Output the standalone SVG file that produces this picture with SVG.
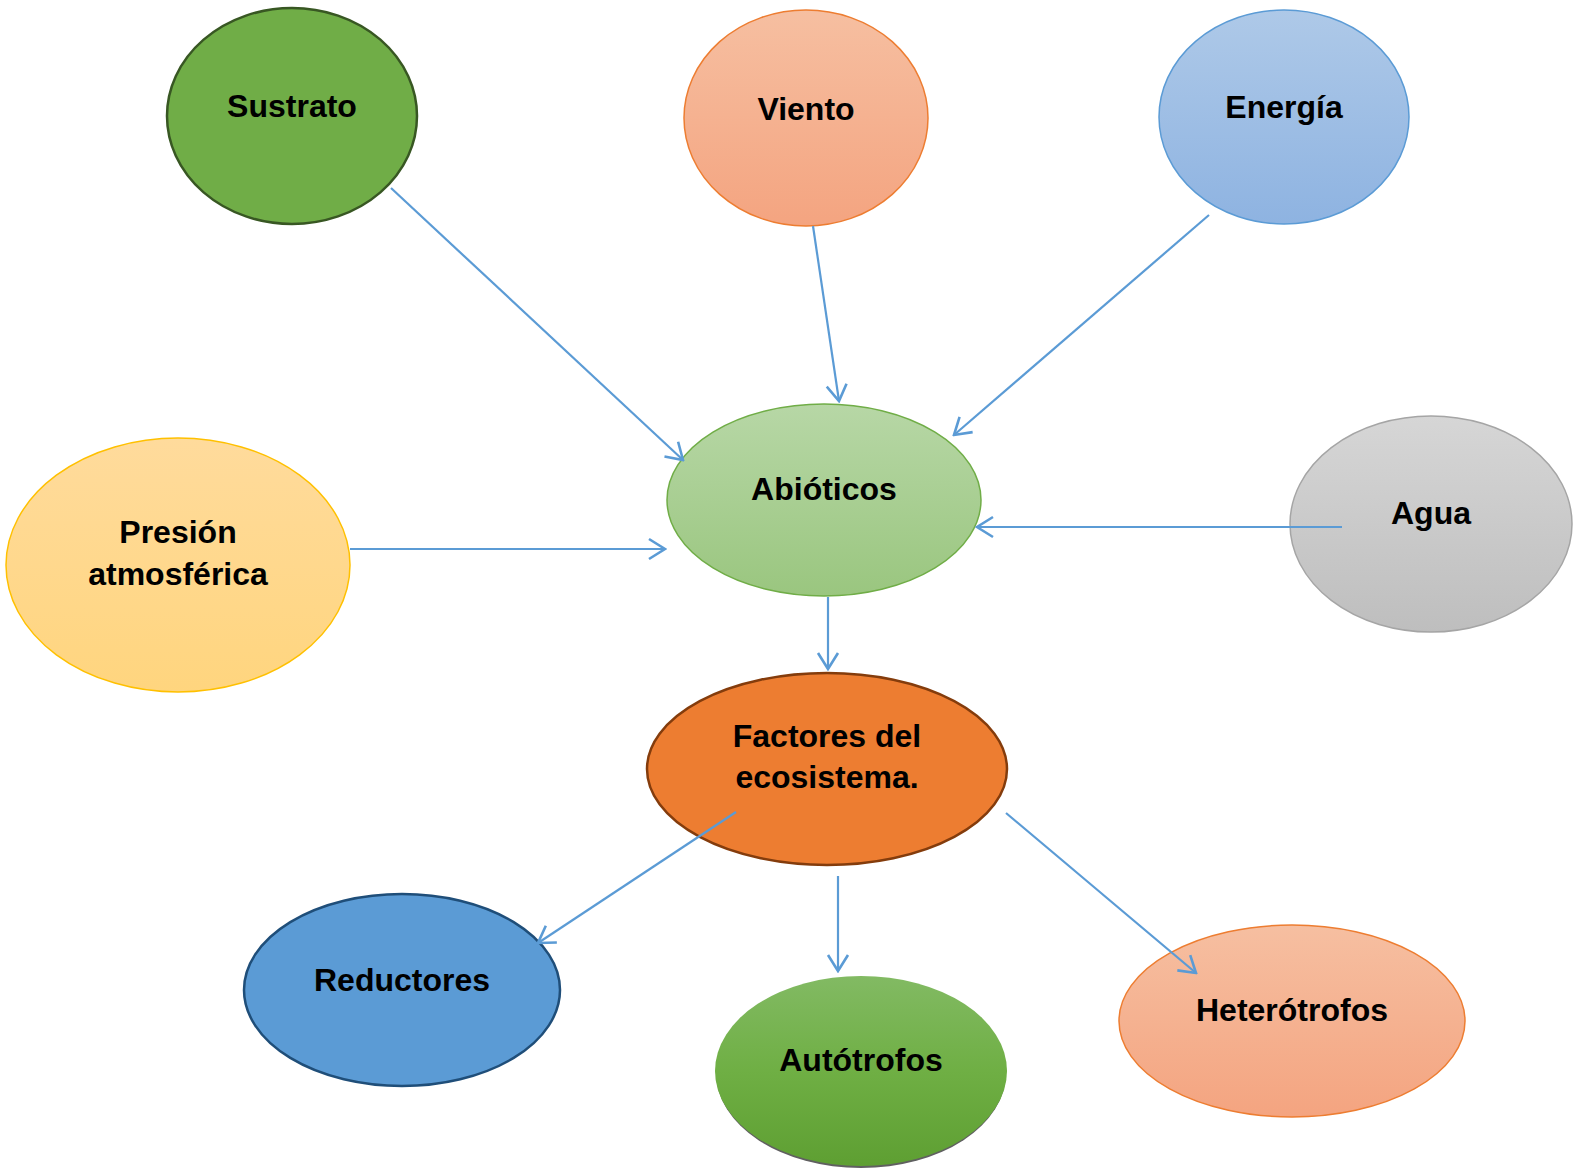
<svg xmlns="http://www.w3.org/2000/svg" width="1574" height="1171" viewBox="0 0 1574 1171">
<style>
text{font-family:"Liberation Sans",Arial,sans-serif;font-weight:bold;font-size:32px;fill:#000;text-anchor:middle}
.c line{stroke:#5B9BD5;stroke-width:2.2;fill:none;marker-end:url(#ar)}
</style>
<defs>
<marker id="ar" markerUnits="userSpaceOnUse" viewBox="0 0 20 24" refX="18" refY="12" markerWidth="20" markerHeight="24" orient="auto">
<path d="M2,2 L18,12 L2,22" fill="none" stroke="#5B9BD5" stroke-width="2.6" stroke-linejoin="miter"/>
</marker>
<linearGradient id="gSal" x1="0" y1="0" x2="0" y2="1"><stop offset="0" stop-color="#F6BFA1"/><stop offset="1" stop-color="#F4A480"/></linearGradient>
<linearGradient id="gBlue" x1="0" y1="0" x2="0" y2="1"><stop offset="0" stop-color="#AEC9E8"/><stop offset="1" stop-color="#8EB3E1"/></linearGradient>
<linearGradient id="gLG" x1="0" y1="0" x2="0" y2="1"><stop offset="0" stop-color="#B7D7A6"/><stop offset="1" stop-color="#9AC67F"/></linearGradient>
<linearGradient id="gY" x1="0" y1="0" x2="0" y2="1"><stop offset="0" stop-color="#FFDB9C"/><stop offset="1" stop-color="#FFD57E"/></linearGradient>
<linearGradient id="gGr" x1="0" y1="0" x2="0" y2="1"><stop offset="0" stop-color="#D6D6D6"/><stop offset="1" stop-color="#BEBEBE"/></linearGradient>
<linearGradient id="gAut" x1="0" y1="0" x2="0" y2="1"><stop offset="0" stop-color="#82BA63"/><stop offset="0.5" stop-color="#6FAF44"/><stop offset="1" stop-color="#5E9F32"/></linearGradient>
</defs>

<g id="sustrato"><ellipse cx="292" cy="116" rx="125" ry="108" fill="#70AD47" stroke="#385723" stroke-width="2.5"/><text x="292" y="117">Sustrato</text></g>
<g id="viento"><ellipse cx="806" cy="118" rx="122" ry="108" fill="url(#gSal)" stroke="#ED7D31" stroke-width="1.5"/><text x="806" y="120">Viento</text></g>
<g id="energia"><ellipse cx="1284" cy="117" rx="125" ry="107" fill="url(#gBlue)" stroke="#5B9BD5" stroke-width="1.5"/><text x="1284" y="118">Energía</text></g>
<g id="abioticos"><ellipse cx="824" cy="500" rx="157" ry="96" fill="url(#gLG)" stroke="#70AD47" stroke-width="1.5"/><text x="824" y="500">Abióticos</text></g>
<g id="presion"><ellipse cx="178" cy="565" rx="172" ry="127" fill="url(#gY)" stroke="#FFC000" stroke-width="1.5"/><text x="178" y="543">Presión</text><text x="178" y="585">atmosférica</text></g>
<g id="agua"><ellipse cx="1431" cy="524" rx="141" ry="108" fill="url(#gGr)" stroke="#A5A5A5" stroke-width="1.5"/><text x="1431" y="524">Agua</text></g>
<g id="factores"><ellipse cx="827" cy="769" rx="180" ry="96" fill="#ED7D31" stroke="#843C0C" stroke-width="2.5"/><text x="827" y="747">Factores del</text><text x="827" y="788">ecosistema.</text></g>
<g id="reductores"><ellipse cx="402" cy="990" rx="158" ry="96" fill="#5B9BD5" stroke="#1F4E79" stroke-width="2.5"/><text x="402" y="991">Reductores</text></g>
<g id="autotrofos"><ellipse cx="861" cy="1073" rx="145" ry="95" fill="#606060"/><ellipse cx="861" cy="1071" rx="146" ry="95" fill="url(#gAut)"/><text x="861" y="1071">Autótrofos</text></g>
<g id="heterotrofos"><ellipse cx="1292" cy="1021" rx="173" ry="96" fill="url(#gSal)" stroke="#ED7D31" stroke-width="1.5"/><text x="1292" y="1021">Heterótrofos</text></g>

<g class="c" id="connectors">
<line x1="391" y1="188" x2="683" y2="460"/>
<line x1="813" y1="226" x2="839" y2="401"/>
<line x1="1209" y1="215" x2="954" y2="435"/>
<line x1="350" y1="549" x2="665" y2="549"/>
<line x1="1342" y1="527" x2="977" y2="527"/>
<line x1="828" y1="597" x2="828" y2="669"/>
<line x1="736" y1="812" x2="538" y2="943"/>
<line x1="838" y1="876" x2="838" y2="971"/>
<line x1="1006" y1="813" x2="1196" y2="973"/>
</g>
</svg>
